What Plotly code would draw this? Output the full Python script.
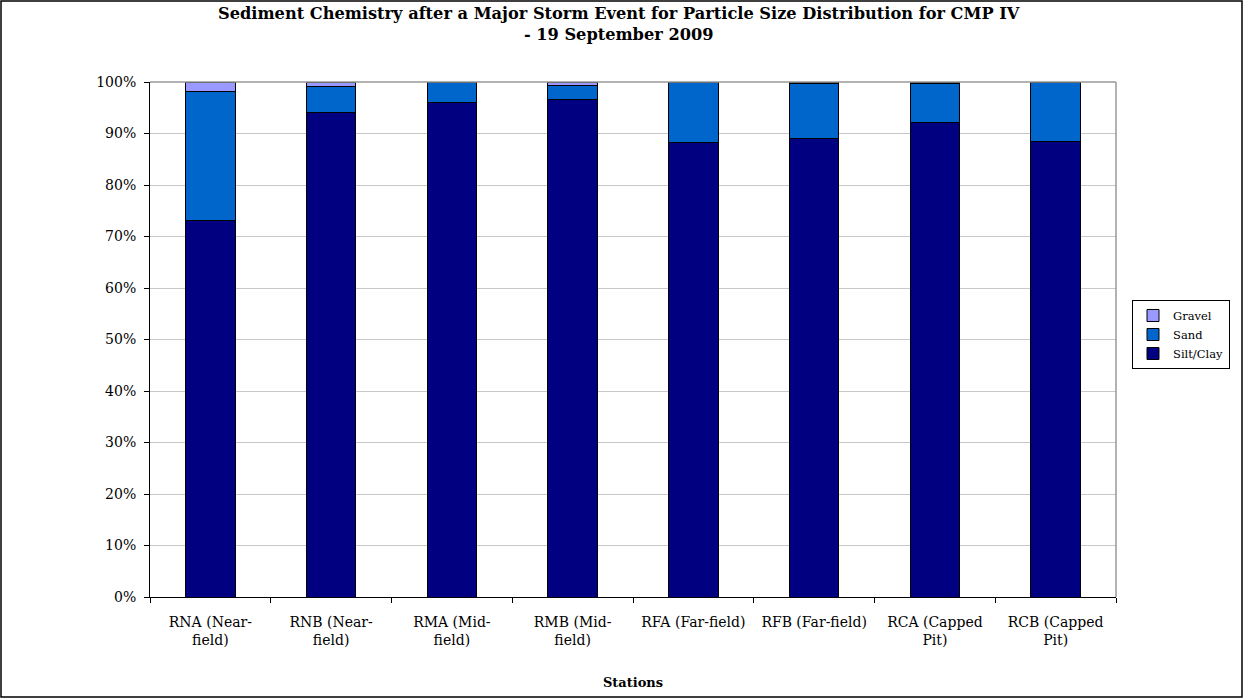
import plotly.graph_objects as go

stations = ["RNA (Near-<br>field)", "RNB (Near-<br>field)", "RMA (Mid-<br>field)", "RMB (Mid-<br>field)",
            "RFA (Far-field)", "RFB (Far-field)", "RCA (Capped<br>Pit)", "RCB (Capped<br>Pit)"]
silt_clay = [73.1, 94.1, 96.1, 96.6, 88.3, 89.0, 92.1, 88.5]
sand = [25.1, 5.0, 3.9, 2.8, 11.7, 10.8, 7.6, 11.5]
gravel = [1.8, 0.9, 0.0, 0.6, 0.0, 0.2, 0.3, 0.0]
y_ticks = [0, 10, 20, 30, 40, 50, 60, 70, 80, 90, 100]
y_tick_labels = ["0%", "10%", "20%", "30%", "40%", "50%", "60%", "70%", "80%", "90%", "100%"]
title_text = "<b>Sediment Chemistry after a Major Storm Event for Particle Size Distribution for CMP IV<br>- 19 September 2009</b>"

W, H = 1243, 698
L, R, T, B = 150, 127, 82, 101
pw, ph = W - L - R, H - T - B

serif = "DejaVu Serif"
fig = go.Figure()
series = [("Silt/Clay", silt_clay, "#000080"), ("Sand", sand, "#0066CC"), ("Gravel", gravel, "#9999FF")]
for name, vals, col in series:
    fig.add_trace(go.Bar(x=stations, y=vals, name=name, width=0.41,
                         marker=dict(color=col, line=dict(color="black", width=1))))

fig.update_layout(
    width=W, height=H, barmode="stack",
    margin=dict(l=L, r=R, t=T, b=B, autoexpand=False),
    paper_bgcolor="white", plot_bgcolor="white",
    font=dict(family=serif, color="black", size=13),
    annotations=[dict(text=title_text, xref="paper", yref="paper",
                      x=(619 - L) / pw, y=1 + (T - 24) / ph, xanchor="center", yanchor="middle",
                      showarrow=False, font=dict(size=16.2), align="center")],
    legend=dict(x=(1132 - L) / pw, y=1 - (300 - T) / ph, xanchor="left", yanchor="top",
                traceorder="reversed", bordercolor="black", borderwidth=1,
                font=dict(size=11.5), itemwidth=30, tracegroupgap=0),
    xaxis=dict(tickson="boundaries", ticks="outside", ticklen=5, tickcolor="black",
               showline=True, linecolor="black", linewidth=1,
               ticklabelstandoff=12, tickangle=0, automargin=False,
               title=dict(text="<b>Stations</b>", font=dict(size=13), standoff=30),
               tickfont=dict(size=14)),
    yaxis=dict(range=[0, 100], tickvals=y_ticks, ticktext=y_tick_labels,
               ticks="outside", ticklen=5, tickcolor="black",
               showline=True, linecolor="black", linewidth=1,
               ticklabelstandoff=5, automargin=False,
               showgrid=True, gridcolor="#c8c8c8", gridwidth=1,
               tickfont=dict(size=14), zeroline=False),
    shapes=[
        dict(type="line", xref="paper", yref="paper", x0=0, x1=1, y0=1, y1=1,
             line=dict(color="#999999", width=1.5)),
        dict(type="line", xref="paper", yref="paper", x0=1, x1=1, y0=0, y1=1,
             line=dict(color="#999999", width=1.5)),
        dict(type="rect", xref="paper", yref="paper",
             x0=-(L - 1) / pw, x1=1 + (R - 1) / pw, y0=-(B - 1) / ph, y1=1 + (T - 1) / ph,
             line=dict(color="black", width=1.5)),
    ],
)
fig.write_html("out.html", config={"displayModeBar": False},
               post_script="document.body.style.margin='0';")
